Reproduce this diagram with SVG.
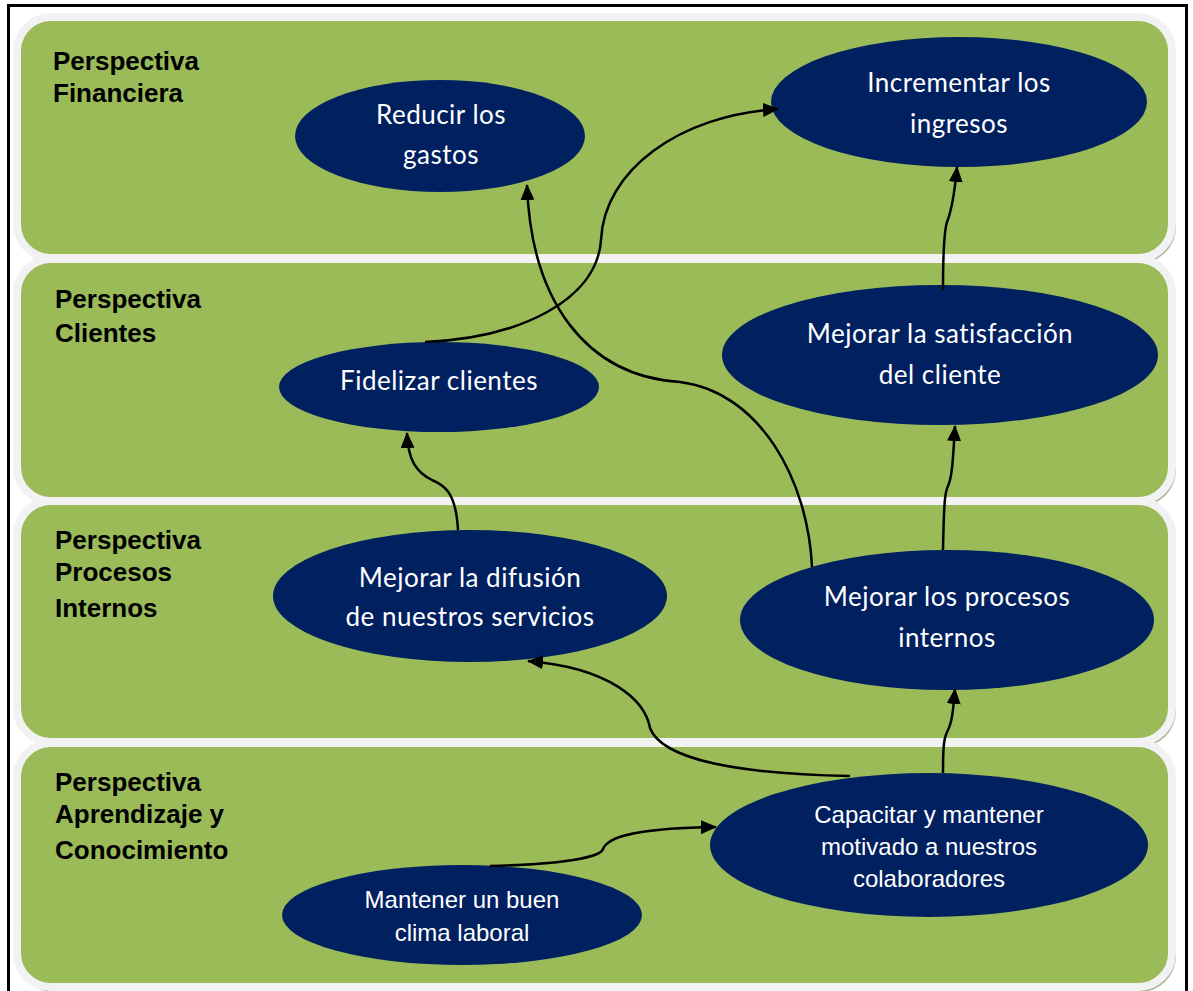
<svg xmlns="http://www.w3.org/2000/svg" width="1193" height="991" viewBox="0 0 1193 991">
  <defs>
    <style>
      .band { fill: #9bbb59; stroke: #f2f2f2; stroke-width: 8; }
      .shadow { fill: #b0b89a; }
      .label { font-family: "Liberation Sans", Arial, sans-serif; font-weight: bold; font-size: 26px; fill: #000; }
      .node { fill: #002060; }
      .t1 { font-family: Lato, "Open Sans", sans-serif; font-size: 26px; letter-spacing: 0.5px; fill: #fff; text-anchor: middle; }
      .t2 { font-family: "Liberation Sans", Arial, sans-serif; font-size: 24px; fill: #fff; text-anchor: middle; }
      .conn { fill: none; stroke: #000; stroke-width: 2.5; marker-end: url(#arrow); }
    </style>
    <marker id="arrow" markerUnits="userSpaceOnUse" markerWidth="16" markerHeight="14" refX="15" refY="7" orient="auto">
      <path d="M0,0 L16,7 L0,14 Z" fill="#000"/>
    </marker>
  </defs>

  <!-- page background and frame -->
  <rect x="0" y="0" width="1193" height="991" fill="#fff"/>
  <rect x="8.5" y="5.5" width="1178" height="1000" fill="none" stroke="#000" stroke-width="3"/>

  <!-- perspective bands -->
  <g id="band-financiera">
    <rect class="shadow" x="18" y="20" width="1158" height="243" rx="36"/>
    <rect class="band" x="17" y="17" width="1155" height="241" rx="34"/>
    <text class="label" x="53" y="70">Perspectiva</text>
    <text class="label" x="53" y="102">Financiera</text>
  </g>
  <g id="band-clientes">
    <rect class="shadow" x="18" y="262" width="1158" height="244" rx="36"/>
    <rect class="band" x="17" y="259" width="1155" height="242" rx="34"/>
    <text class="label" x="55" y="308">Perspectiva</text>
    <text class="label" x="55" y="342">Clientes</text>
  </g>
  <g id="band-procesos">
    <rect class="shadow" x="18" y="504" width="1158" height="243" rx="36"/>
    <rect class="band" x="17" y="501" width="1155" height="241" rx="34"/>
    <text class="label" x="55" y="549">Perspectiva</text>
    <text class="label" x="55" y="581">Procesos</text>
    <text class="label" x="55" y="617">Internos</text>
  </g>
  <g id="band-aprendizaje">
    <rect class="shadow" x="18" y="746" width="1158" height="246" rx="36"/>
    <rect class="band" x="17" y="743" width="1155" height="244" rx="34"/>
    <text class="label" x="55" y="791">Perspectiva</text>
    <text class="label" x="55" y="823">Aprendizaje y</text>
    <text class="label" x="55" y="859">Conocimiento</text>
  </g>

  <!-- objectives -->
  <g id="reducir-gastos">
    <ellipse class="node" cx="440" cy="136" rx="145" ry="56"/>
    <text class="t1" x="441" y="124">Reducir los</text>
    <text class="t1" x="441" y="164">gastos</text>
  </g>
  <g id="incrementar-ingresos">
    <ellipse class="node" cx="959" cy="102" rx="188" ry="65"/>
    <text class="t1" x="959" y="92">Incrementar los</text>
    <text class="t1" x="959" y="133">ingresos</text>
  </g>
  <g id="fidelizar-clientes">
    <ellipse class="node" cx="439" cy="387" rx="160" ry="45"/>
    <text class="t1" x="439" y="390">Fidelizar clientes</text>
  </g>
  <g id="satisfaccion-cliente">
    <ellipse class="node" cx="940" cy="355" rx="218" ry="70"/>
    <text class="t1" x="940" y="343">Mejorar la satisfacción</text>
    <text class="t1" x="940" y="384">del cliente</text>
  </g>
  <g id="difusion-servicios">
    <ellipse class="node" cx="470" cy="596" rx="197" ry="66"/>
    <text class="t1" x="470" y="587">Mejorar la difusión</text>
    <text class="t1" x="470" y="626">de nuestros servicios</text>
  </g>
  <g id="procesos-internos">
    <ellipse class="node" cx="947" cy="620" rx="207" ry="70"/>
    <text class="t1" x="947" y="606">Mejorar los procesos</text>
    <text class="t1" x="947" y="647">internos</text>
  </g>
  <g id="capacitar-colaboradores">
    <ellipse class="node" cx="929" cy="845" rx="219" ry="72"/>
    <text class="t2" x="929" y="823">Capacitar y mantener</text>
    <text class="t2" x="929" y="855">motivado a nuestros</text>
    <text class="t2" x="929" y="887">colaboradores</text>
  </g>
  <g id="clima-laboral">
    <ellipse class="node" cx="462" cy="915" rx="180" ry="50"/>
    <text class="t2" x="462" y="908">Mantener un buen</text>
    <text class="t2" x="462" y="941">clima laboral</text>
  </g>

  <!-- cause-effect connectors -->
  <g id="connectors">
    <path class="conn" d="M425,342 C520,338 597,300 601,240 C604,170 680,115 778,109"/>
    <path class="conn" d="M812,567 C808,480 760,392 680,382 C585,376 531,300 527,185"/>
    <path class="conn" d="M458,530 C456,492 444,485 432,480 C416,472 408,460 407,433"/>
    <path class="conn" d="M943,550 C944,500 945,492 948,486 C952,478 953,460 955,426"/>
    <path class="conn" d="M943,290 C943,250 944,232 947,222 C951,212 954,200 957,167"/>
    <path class="conn" d="M943,773 C943,745 944,737 948,730 C952,722 953,712 955,689"/>
    <path class="conn" d="M850,776 C740,774 662,760 650,728 C645,700 610,668 528,661"/>
    <path class="conn" d="M490,866 C560,864 600,858 603,849 C608,836 640,828 716,827"/>
  </g>
</svg>
